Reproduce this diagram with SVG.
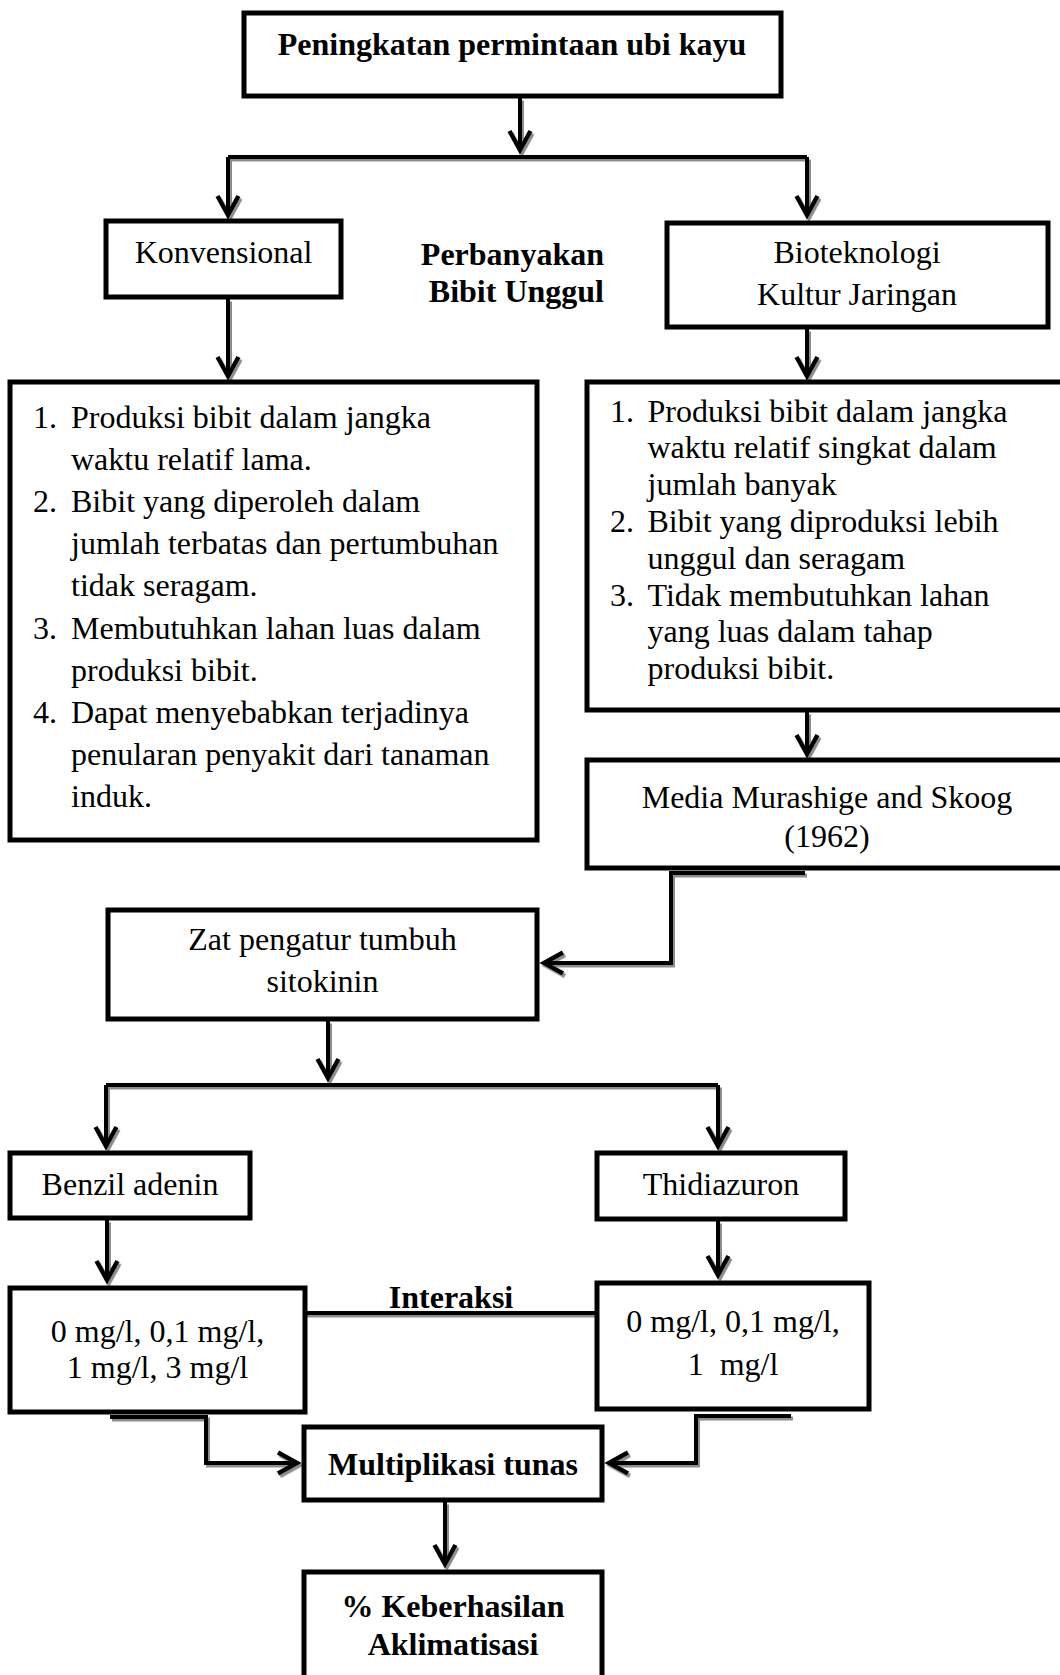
<svg xmlns="http://www.w3.org/2000/svg" width="1060" height="1675" viewBox="0 0 1060 1675">
<style>
.box{fill:#fff;stroke:#000;stroke-width:5}
.t{font-family:"Liberation Serif","Times New Roman",serif;font-size:32px;fill:#000}
.b{font-weight:bold}
.c{text-anchor:middle}
.e{text-anchor:end}
.con{fill:none;stroke:#000;stroke-width:4;stroke-linejoin:miter}
.arr{marker-end:url(#ah)}
</style>
<defs>
<marker id="ah" markerUnits="userSpaceOnUse" markerWidth="40" markerHeight="40" viewBox="-30 -20 40 40" refX="0" refY="0" orient="auto" overflow="visible">
<path d="M-19,-10.5 L0,0 L-19,10.5" fill="none" stroke="#000" stroke-width="4.5" stroke-linejoin="miter"/>
</marker>
<filter id="sh" filterUnits="userSpaceOnUse" x="0" y="0" width="1060" height="1675">
<feDropShadow dx="2" dy="2.5" stdDeviation="0.6" flood-color="#808080" flood-opacity="0.9"/>
</filter>
</defs>
<rect width="1060" height="1675" fill="#fff"/>

<g id="connectors" filter="url(#sh)">
<path class="con arr" d="M520,98 V150"/>
<path class="con" d="M228,157 H807"/>
<path class="con arr" d="M228,157 V215"/>
<path class="con arr" d="M807,157 V215"/>
<path class="con arr" d="M228,299 V376"/>
<path class="con arr" d="M807,329 V376"/>
<path class="con arr" d="M807,712 V754"/>
<path class="con arr" d="M805,873 H671 V963 H544"/>
<path class="con arr" d="M328,1021 V1078"/>
<path class="con" d="M106,1085 H718"/>
<path class="con arr" d="M106,1085 V1146"/>
<path class="con arr" d="M718,1085 V1146"/>
<path class="con arr" d="M107,1220 V1280"/>
<path class="con arr" d="M718,1221 V1275"/>
<path class="con" d="M305,1313 H597"/>
<path class="con arr" d="M110,1417 H206 V1463 H297"/>
<path class="con arr" d="M791,1416 H696 V1463 H609"/>
<path class="con arr" d="M445,1502 V1564"/>
</g>

<g id="n-title">
<rect class="box" x="244" y="13" width="537" height="83"/>
<text class="t b c" x="512" y="55">Peningkatan permintaan ubi kayu</text>
</g>

<g id="n-label">
<text class="t b e" x="604" y="265">Perbanyakan</text>
<text class="t b e" x="604" y="302">Bibit Unggul</text>
</g>

<g id="n-konvensional">
<rect class="box" x="106" y="221" width="235" height="76"/>
<text class="t c" x="223.5" y="263">Konvensional</text>
</g>

<g id="n-bioteknologi">
<rect class="box" x="667" y="223" width="381" height="104"/>
<text class="t c" x="857" y="263">Bioteknologi</text>
<text class="t c" x="857" y="305">Kultur Jaringan</text>
</g>

<g id="n-konv-list">
<rect class="box" x="10" y="382" width="527" height="458"/>
<text class="t" x="33" y="427.5">1.</text>
<text class="t" x="71" y="427.5">Produksi bibit dalam jangka</text>
<text class="t" x="71" y="469.7">waktu relatif lama.</text>
<text class="t" x="33" y="511.9">2.</text>
<text class="t" x="71" y="511.9">Bibit yang diperoleh dalam</text>
<text class="t" x="71" y="554.1">jumlah terbatas dan pertumbuhan</text>
<text class="t" x="71" y="596.3">tidak seragam.</text>
<text class="t" x="33" y="638.5">3.</text>
<text class="t" x="71" y="638.5">Membutuhkan lahan luas dalam</text>
<text class="t" x="71" y="680.7">produksi bibit.</text>
<text class="t" x="33" y="722.9">4.</text>
<text class="t" x="71" y="722.9">Dapat menyebabkan terjadinya</text>
<text class="t" x="71" y="765.1">penularan penyakit dari tanaman</text>
<text class="t" x="71" y="807.3">induk.</text>
</g>

<g id="n-bio-list">
<rect class="box" x="587" y="382" width="480" height="328"/>
<text class="t" x="610" y="421.5">1.</text>
<text class="t" x="647.5" y="421.5">Produksi bibit dalam jangka</text>
<text class="t" x="647.5" y="458.3">waktu relatif singkat dalam</text>
<text class="t" x="647.5" y="495.1">jumlah banyak</text>
<text class="t" x="610" y="531.9">2.</text>
<text class="t" x="647.5" y="531.9">Bibit yang diproduksi lebih</text>
<text class="t" x="647.5" y="568.7">unggul dan seragam</text>
<text class="t" x="610" y="605.5">3.</text>
<text class="t" x="647.5" y="605.5">Tidak membutuhkan lahan</text>
<text class="t" x="647.5" y="642.3">yang luas dalam tahap</text>
<text class="t" x="647.5" y="679.1">produksi bibit.</text>
</g>

<g id="n-media">
<rect class="box" x="587" y="760" width="480" height="108"/>
<text class="t c" x="827" y="808">Media Murashige and Skoog</text>
<text class="t c" x="827" y="847">(1962)</text>
</g>

<g id="n-zat">
<rect class="box" x="108" y="910" width="429" height="109"/>
<text class="t c" x="322.5" y="950">Zat pengatur tumbuh</text>
<text class="t c" x="322.5" y="992">sitokinin</text>
</g>

<g id="n-benzil">
<rect class="box" x="10" y="1153" width="240" height="65"/>
<text class="t c" x="130" y="1195">Benzil adenin</text>
</g>

<g id="n-thidiazuron">
<rect class="box" x="597" y="1153" width="248" height="66"/>
<text class="t c" x="721" y="1195">Thidiazuron</text>
</g>

<g id="n-ba-dose">
<rect class="box" x="10" y="1288" width="295" height="124"/>
<text class="t c" x="157.5" y="1342">0 mg/l, 0,1 mg/l,</text>
<text class="t c" x="157.5" y="1378">1 mg/l, 3 mg/l</text>
</g>

<g id="n-interaksi">
<text class="t b c" x="451" y="1308">Interaksi</text>
</g>

<g id="n-tdz-dose">
<rect class="box" x="597" y="1283" width="272" height="126"/>
<text class="t c" x="733" y="1332">0 mg/l, 0,1 mg/l,</text>
<text class="t c" x="733" y="1375" xml:space="preserve">1  mg/l</text>
</g>

<g id="n-multiplikasi">
<rect class="box" x="304" y="1427" width="298" height="73"/>
<text class="t b c" x="453" y="1475">Multiplikasi tunas</text>
</g>

<g id="n-aklimatisasi">
<rect class="box" x="304" y="1572" width="298" height="140"/>
<text class="t b c" x="453" y="1617">% Keberhasilan</text>
<text class="t b c" x="453" y="1655">Aklimatisasi</text>
</g>
</svg>
